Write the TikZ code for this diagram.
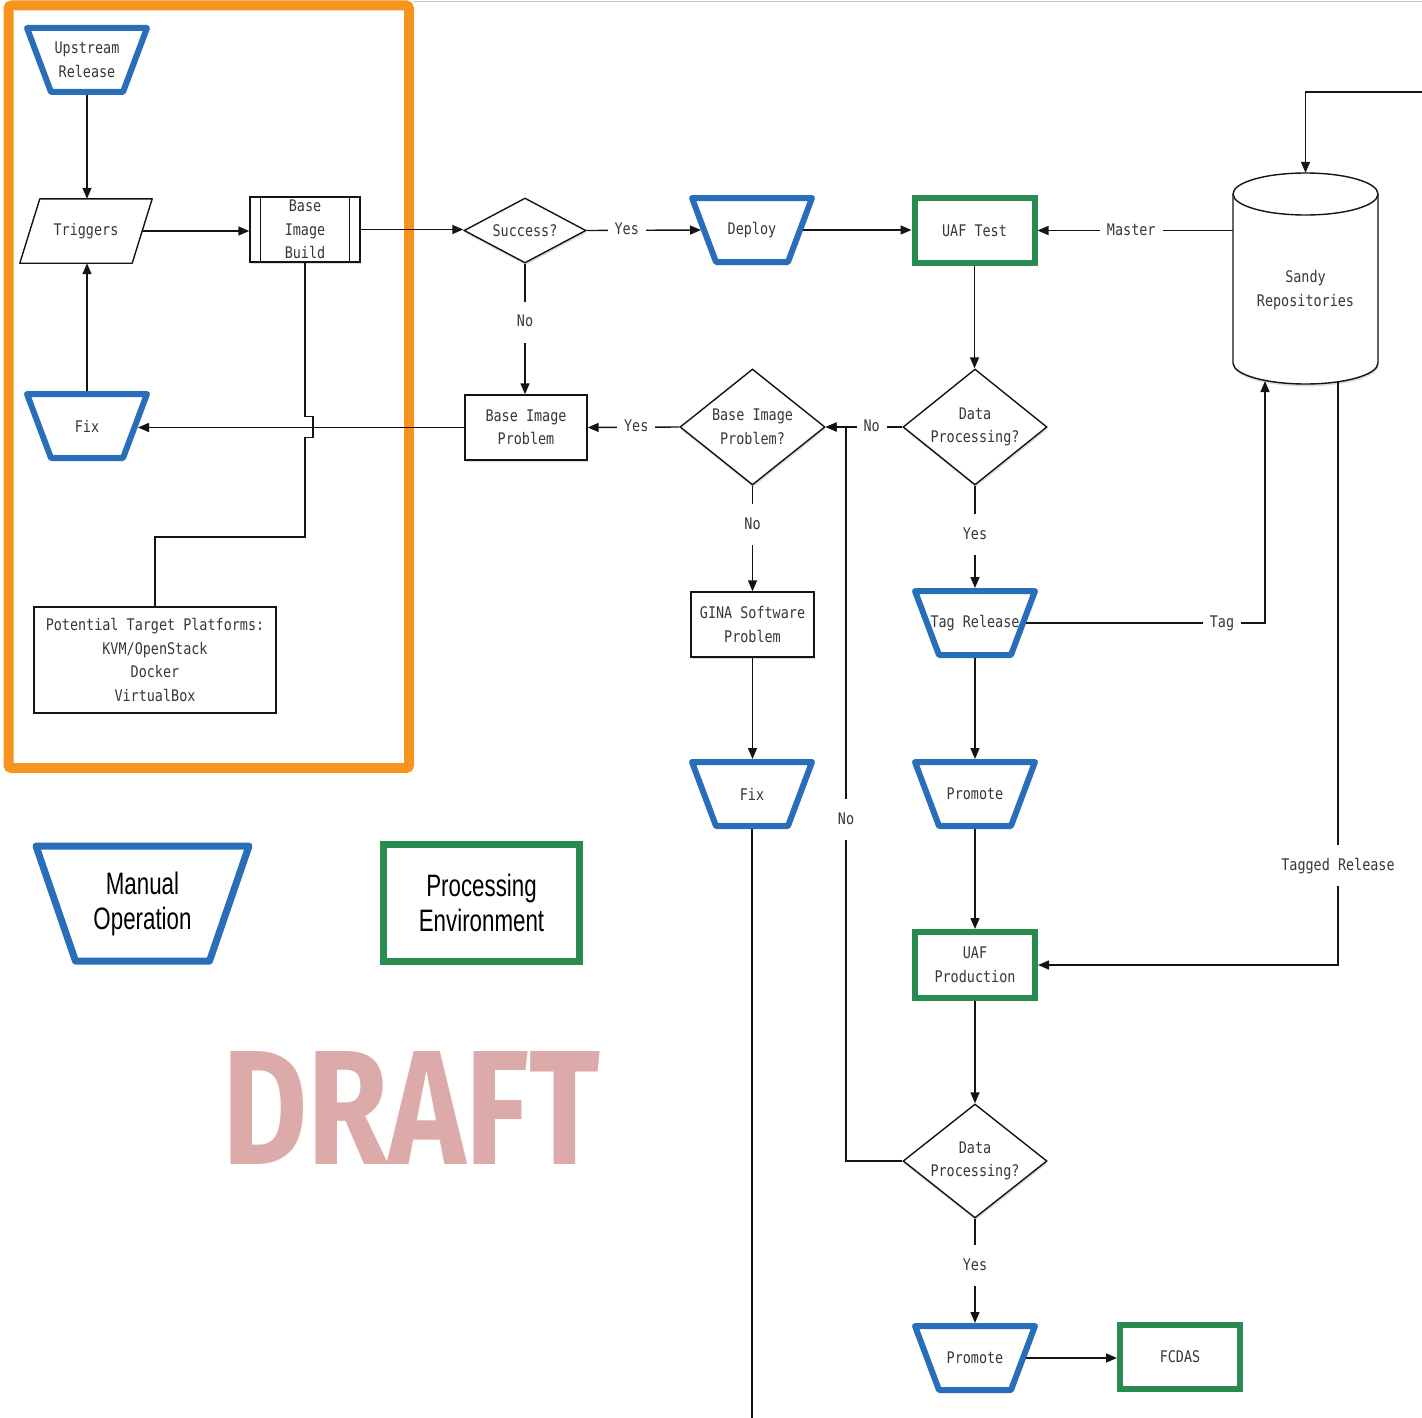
\documentclass[tikz,border=0pt]{standalone}
\usepackage{fontspec}
\usepackage{graphicx}
\usetikzlibrary{shapes.geometric,arrows.meta,shadows,calc}
\newfontfamily\monof{DejaVu Sans Mono}[FakeStretch=0.84]
\newfontfamily\legf{Liberation Sans}[FakeStretch=0.72]
\newfontfamily\draftf{Fira Sans}
\definecolor{mblue}{RGB}{40,110,185}
\definecolor{mgreen}{RGB}{40,140,80}
\definecolor{morange}{RGB}{248,148,30}
\definecolor{mdraft}{RGB}{221,170,170}
\definecolor{mtext}{RGB}{55,55,55}
\definecolor{mline}{RGB}{20,20,20}
% manual-operation trapezoid: outline drawn first, then the named node on top
\newcommand\mopnode[3]{%
  \draw[mopline] ($(#2)+(-60,-32)$) -- ($(#2)+(60,-32)$) -- ($(#2)+(36,32)$)
    -- ($(#2)+(-36,32)$) -- cycle;
  \node[mop] (#1) at (#2) {#3};
}
\begin{document}
\begin{tikzpicture}[x=1pt,y=-1pt,
  every node/.style={font=\monof\fontsize{16}{23.5}\selectfont, text=mtext},
  shad/.style={drop shadow={shadow xshift=0.6pt,shadow yshift=-2.4pt,opacity=0.28}},
  mopline/.style={draw=mblue, line width=6pt, line join=round, fill=white, shad},
  mop/.style={rectangle, minimum width=96pt, minimum height=64pt, inner sep=0pt,
    outer sep=3pt, align=center},
  penv/.style={rectangle, draw=mgreen, line width=6pt, minimum width=120pt,
    minimum height=65pt, fill=white, inner sep=0pt, align=center, shad},
  proc/.style={rectangle, draw=mline, line width=1.4pt, fill=white, align=center,
    inner sep=0pt, minimum height=65pt, shad},
  decide/.style={diamond, draw=mline, line width=1.4pt, fill=white, aspect=1.25,
    inner sep=0pt, align=center, shad},
  line/.style={draw=mline, line width=1.4pt},
  arr/.style={line, -{Triangle[length=11pt,width=9pt]}},
  lbl/.style={fill=white, inner xsep=7pt, inner ysep=13pt, text height=12pt, text depth=3pt},
]
\path[use as bounding box] (0,0) rectangle (1422,1418);
\draw[black!22, line width=1pt] (413,1.5) -- (1422,1.5);
% orange group frame
\draw[morange, line width=10pt, rounded corners=3pt] (8.5,5.5) rectangle (409,768);

% left column
\mopnode{up}{87,60}{Upstream\\Release}
\node[minimum width=132pt, minimum height=64pt, inner sep=0pt] (trig) at (86,231) {Triggers};
\draw[line, line join=round] (trig.south west) -- ($(trig.north west)+(20,0)$) -- (trig.north east)
  -- ($(trig.south east)+(-20,0)$) -- cycle;
\mopnode{fix1}{87,426}{Fix}
\node[proc, minimum width=110pt] (bib) at (305,229.5) {Base\\Image\\Build};
\draw[line] ($(bib.north west)+(11,0)$) -- ($(bib.south west)+(11,0)$);
\draw[line] ($(bib.north east)+(-11,0)$) -- ($(bib.south east)+(-11,0)$);
\node[draw=mline, line width=1.4pt, minimum width=242pt, minimum height=106pt, inner sep=0pt,
  align=center] (ptp) at (155,660) {Potential Target Platforms:\\KVM/OpenStack\\Docker\\VirtualBox};

% middle
\node[decide, aspect=1.88] (succ) at (525,230.5) [minimum width=122pt, minimum height=65pt] {Success?};
\node[proc, minimum width=122pt] (bip) at (526,427.5) {Base Image\\Problem};
\mopnode{deploy}{752,230}{Deploy}
\node[decide, minimum width=145pt, minimum height=116pt] (bipq) at (752.5,427) {Base Image\\Problem?};
\node[proc, minimum width=123pt] (gina) at (752.5,624.5) {GINA Software\\Problem};
\mopnode{fix2}{752,794}{Fix}

% right
\node[penv] (uaftest) at (974.5,230.5) {UAF Test};
\node[decide, minimum width=144pt, minimum height=116pt] (dp1) at (975,427) {Data\\Processing?};
\mopnode{tagrel}{975,623}{Tag Release}
\mopnode{prom1}{975,794}{Promote}
\node[penv, minimum height=66pt] (uafprod) at (975,965) {UAF\\Production};
\node[decide, minimum width=144pt, minimum height=114pt] (dp2) at (975,1161) {Data\\Processing?};
\mopnode{prom2}{975,1358}{Promote}
\node[penv, minimum height=64pt] (fcdas) at (1180,1357) {FCDAS};

% repository cylinder
\draw[line, fill=white, shad] (1233,194) -- (1233,363)
  arc[start angle=180, end angle=360, x radius=72.5pt, y radius=21pt] -- (1378,194)
  arc[start angle=0, end angle=180, x radius=72.5pt, y radius=21pt] -- cycle;
\draw[line] (1233,194) arc[start angle=180, end angle=360, x radius=72.5pt, y radius=21pt];
\node[minimum width=145pt, minimum height=212pt, inner sep=0pt] (sandy) at (1305.5,279) {};
\node[align=center, inner sep=0pt] (sandytxt) at (1305.5,290) {Sandy\\Repositories};

% legend
\draw[draw=mblue, line width=7pt, line join=round, fill=white, shad]
  (36,846) -- (249,846) -- (209.5,961) -- (75.5,961) -- cycle;
\node[align=center, inner sep=0pt, font=\legf\fontsize{31}{35}\selectfont, text=black]
  (legman) at (142.5,903.5) {Manual\\Operation};
\node[rectangle, draw=mgreen, line width=7pt, minimum width=196pt, minimum height=117pt,
  fill=white, inner sep=0pt, align=center, shad,
  font=\legf\fontsize{31}{35}\selectfont, text=black] (legenv) at (481.5,903) {Processing\\Environment};

% watermark
\node[anchor=south west, inner sep=0pt, text=mdraft] (draft) at (222,1165)
  {\resizebox{378pt}{113pt}{\draftf\bfseries DRAFT}};

% helper coordinates
\coordinate (topin) at (1422,92);
\coordinate (tagin) at (1265,381);
\coordinate (tagout) at (1338,382);
\coordinate (njoin) at (846,427);
\coordinate (bendy) at (0,537);
\coordinate (bottomy) at (0,1420);
\coordinate (jmp) at (bib.south |- bip.west);

% connectors
\draw[arr] (up.south) -- (up.south |- trig.north);
\draw[arr] (fix1.north) -- (fix1.north |- trig.south);
\draw[arr] ($(trig.east)+(-10,0)$) -- (trig.east -| bib.west);
\draw[arr] (bib.east) -- (bib.east -| succ.west);
\draw[arr] (succ.east) -- node[lbl, pos=.35] {Yes} (deploy.west);
\draw[arr] (deploy.east) -- (deploy.east -| uaftest.west);
\draw[arr] (sandy.west |- uaftest.east) -- node[lbl, pos=.52] {Master} (uaftest.east);
\draw[arr] (topin) -| (sandy.north);
\draw[arr] (uaftest.south) -- (uaftest.south |- dp1.north);
\draw[arr] (dp1.west) -- node[lbl, pos=.4] {No} (bipq.east);
\draw[arr] (bipq.west) -- node[lbl, pos=.47] {Yes} (bip.east);
\draw[arr] (succ.south) -- node[lbl, pos=.45] {No} (succ.south |- bip.north);
\draw[arr] (bip.west) -- (bip.west -| fix1.east);
\draw[line] (bib.south) -- ($(jmp)+(0,-11)$) -- ++(8,0) -- ++(0,21) -- ++(-8,0)
  -- (bib.south |- bendy) -| (ptp.north);
\draw[arr] (bipq.south) -- node[lbl, pos=.37] {No} (bipq.south |- gina.north);
\draw[arr] (gina.south) -- (gina.south |- fix2.north);
\draw[line] (fix2.south) -- (fix2.south |- bottomy);
\draw[arr] (dp1.south) -- node[lbl, pos=.48] {Yes} (tagrel.north);
\draw[arr] (tagrel.east) -- node[lbl, pos=.82] {Tag} (tagrel.east -| tagin) -- (tagin);
\draw[arr] (tagrel.south) -- (prom1.north);
\draw[arr] (prom1.south) -- (uafprod.north);
\draw[arr] (tagout) -- node[lbl, pos=.83] {Tagged Release} (tagout |- uafprod.east) -- (uafprod.east);
\draw[arr] (uafprod.south) -- (dp2.north);
\draw[arr] (dp2.west) -- (dp2.west -| njoin) -- node[lbl, pos=.465] {No} (njoin) -- (bipq.east);
\draw[arr] (dp2.south) -- node[lbl, pos=.45] {Yes} (prom2.north);
\draw[arr] (prom2.east) -- (prom2.east -| fcdas.west);
\end{tikzpicture}
\end{document}
